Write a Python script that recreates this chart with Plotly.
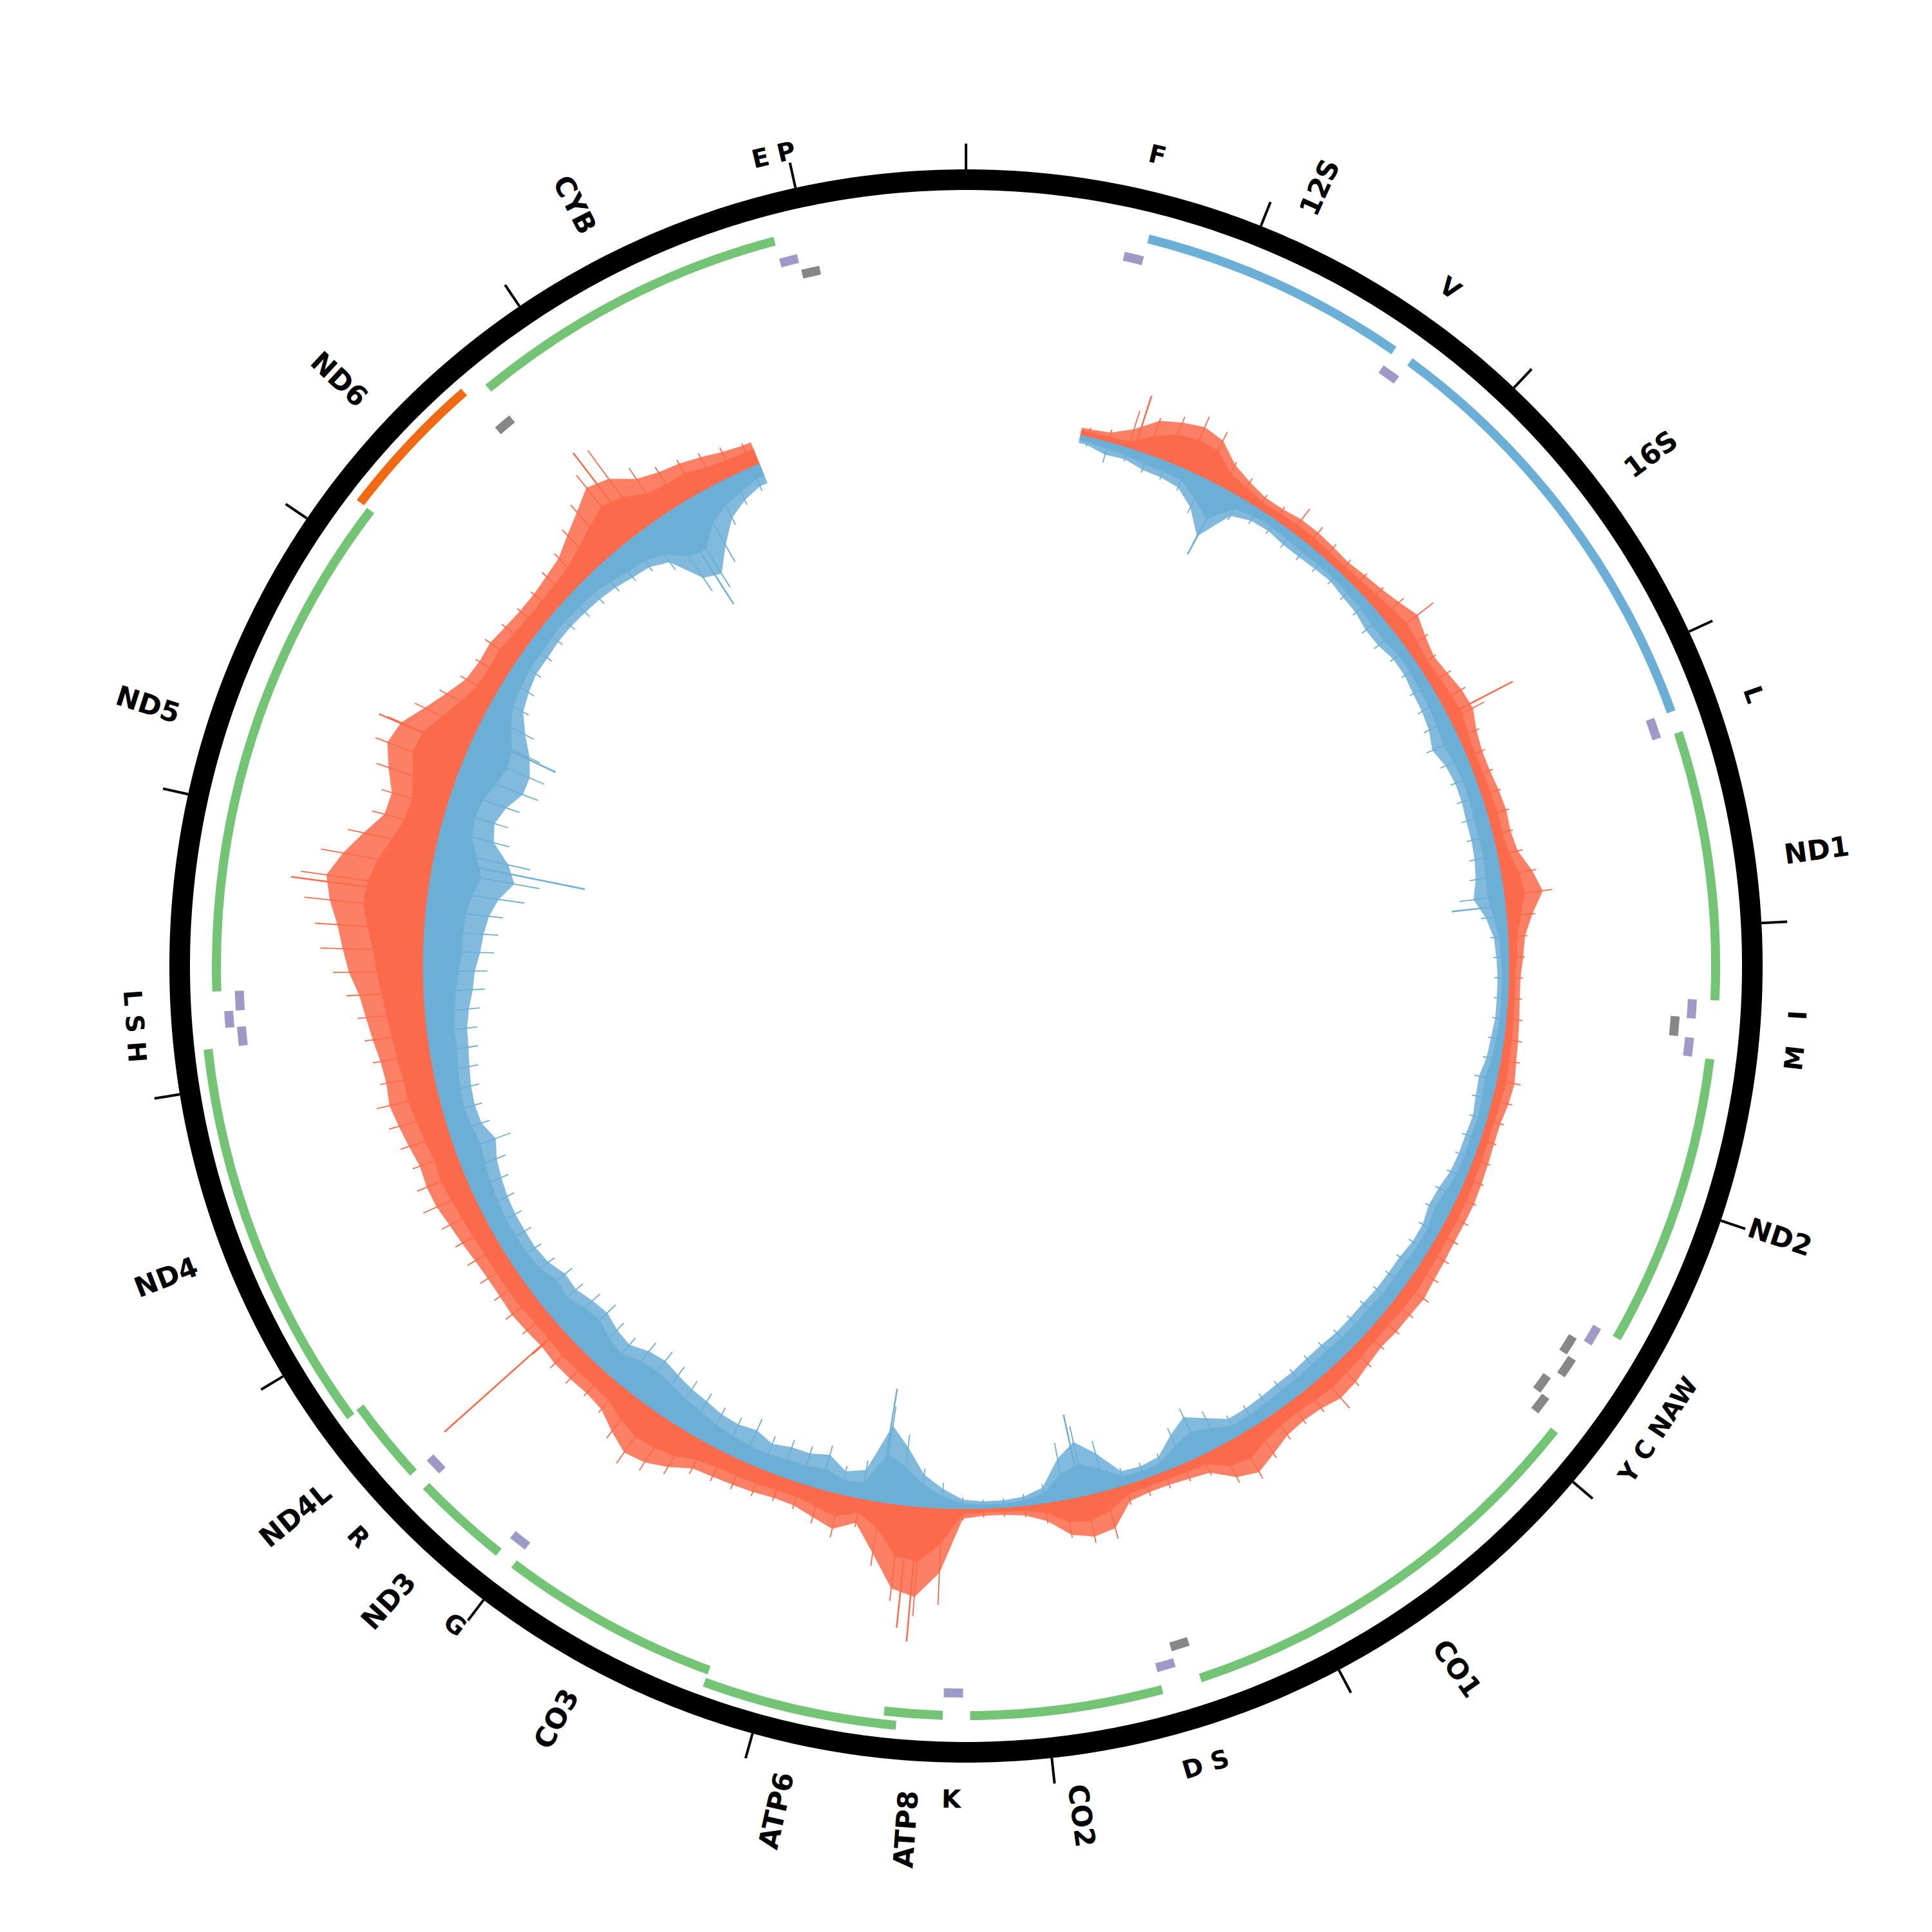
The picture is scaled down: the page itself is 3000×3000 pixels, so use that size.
import math
import plotly.graph_objects as go

GENOME_LEN = 16569

# ---------------- gene annotation (bp) ----------------
gene_names  = ["F","12S","V","16S","L","ND1","I","Q","M","ND2","W","A","N","C","Y","CO1","S","D","CO2","K",
               "ATP8","ATP6","CO3","G","ND3","R","ND4L","ND4","H","S","L","ND5","ND6","E","CYB","T","P"]
gene_start  = [577,648,1602,1671,3230,3307,4263,4329,4402,4470,5512,5587,5657,5761,5826,5904,7446,7518,7586,8295,
               8366,8527,9207,9991,10059,10405,10470,10760,12138,12207,12266,12337,14149,14674,14747,15888,15956]
gene_end    = [647,1601,1670,3229,3304,4262,4331,4400,4469,5511,5579,5655,5729,5826,5891,7445,7514,7585,8269,8364,
               8572,9207,9990,10058,10404,10469,10766,12137,12206,12265,12336,14148,14673,14742,15887,15953,16023]
gene_type   = ["tRNA","rRNA","tRNA","rRNA","tRNA","CDS","tRNA","tRNA","tRNA","CDS","tRNA","tRNA","tRNA","tRNA","tRNA","CDS","tRNA","tRNA","CDS","tRNA",
               "CDS","CDS","CDS","tRNA","CDS","tRNA","CDS","CDS","tRNA","tRNA","tRNA","CDS","CDS","tRNA","CDS","tRNA","tRNA"]
gene_strand = ["+","+","+","+","+","+","+","-","+","+","+","-","-","-","-","+","-","+","+","+",
               "+","+","+","+","+","+","+","+","+","+","+","+","-","-","+","+","-"]

# tRNA label groups (text, bp position)
trna_label_text = ["F","V","L","I","M","Y C NAW","D S","K","G","R","L S H","E P"]
trna_label_pos  = [612,1636,3267,4297,4435,5700,7516,8330,10025,10437,12236,15955]

tick_pos = [0,1000,2000,3000,4000,5000,6000,7000,8000,9000,10000,11000,12000,13000,14000,15000,16000]

# ---------------- coverage (100 bp bins) ----------------
cov_pos = list(range(600, 15600, 100))
# dense level
red_core = [8,8,10,30,45,50,48,25,18,12,
            12,14,14,12,12,14,16,20,24,20,
            16,18,20,22,16,14,14,15,16,15,
            18,28,32,22,14,12,10,10,11,12,
            13,15,14,12,12,13,14,15,16,16,
            17,18,20,19,18,18,20,22,24,22,
            20,22,28,40,35,16,14,13,13,15,
            32,40,35,15,8,6,6,8,55,85,
            80,40,22,35,28,22,22,24,25,26,
            30,42,48,50,42,30,28,28,28,26,
            26,28,28,28,28,30,32,35,38,36,
            40,44,48,48,52,55,60,65,72,78,
            88,98,95,85,70,58,55,65,78,75,
            58,42,32,30,32,28,26,26,28,32,
            42,55,68,60,42,38,38,30,26,25]
# outer extent of the spike fuzz
red_edge = [12,15,30,55,65,72,65,40,28,20,
            20,24,24,22,20,24,28,35,45,35,
            28,32,38,40,30,25,25,28,30,28,
            32,48,60,40,26,22,18,18,20,22,
            24,28,26,22,22,24,26,28,28,28,
            30,32,36,34,34,32,36,42,45,38,
            36,40,52,65,55,30,25,22,22,26,
            60,65,55,28,15,11,11,15,100,140,
            130,80,38,55,45,36,35,38,40,42,
            45,62,75,80,65,48,44,45,45,42,
            44,46,44,44,46,50,54,60,62,60,
            66,72,78,75,78,85,92,100,115,125,
            135,150,160,140,115,90,88,105,120,112,
            88,68,52,48,50,45,42,42,46,52,
            68,85,105,95,70,60,55,48,40,36]
# tallest spike in each bin
red_peak = [15,20,60,60,75,90,80,45,35,25,
            25,45,35,28,25,28,32,45,76,40,
            32,38,45,60,35,30,30,32,35,32,
            40,55,75,45,30,25,22,22,25,28,
            30,38,32,28,26,28,30,32,35,35,
            38,40,45,40,40,38,42,50,66,45,
            42,48,60,77,65,35,30,28,28,32,
            77,75,60,32,18,14,14,18,150,170,
            150,100,45,69,55,42,40,45,48,50,
            55,75,90,101,78,55,50,55,55,60,
            52,58,55,58,60,62,68,83,78,72,
            80,88,98,85,90,98,105,120,140,160,
            170,190,200,175,140,110,105,125,140,135,
            105,80,62,55,60,52,48,48,55,62,
            80,100,130,150,90,70,62,55,48,40]
blue_core = [8,10,12,15,16,18,35,55,20,14,
             12,14,15,14,13,15,16,20,20,16,
             16,18,20,22,26,22,20,20,22,22,
             22,24,26,20,14,12,10,10,10,12,
             14,18,16,14,15,15,16,20,24,18,
             18,20,20,20,22,22,22,24,24,22,
             22,20,18,18,30,40,30,15,12,14,
             35,50,40,15,8,6,6,8,18,35,
             60,75,25,22,32,28,28,25,26,28,
             32,38,42,48,52,48,38,42,52,48,
             38,42,32,28,28,28,30,32,36,40,
             36,33,35,38,42,42,46,50,55,60,
             60,62,68,78,65,50,46,50,60,68,
             62,45,32,28,24,24,22,22,24,25,
             30,36,40,50,75,80,50,36,28,20]
blue_edge = [12,20,18,25,26,30,50,85,32,22,
             20,24,24,22,20,24,26,32,32,26,
             26,30,32,36,45,36,32,32,34,34,
             36,40,48,32,22,19,17,17,17,20,
             22,28,26,22,24,24,26,32,34,28,
             28,32,32,32,34,34,34,36,36,34,
             34,32,30,30,48,65,48,24,20,22,
             60,85,65,24,14,11,11,14,30,50,
             90,120,45,36,55,48,48,42,52,48,
             50,56,60,66,72,68,56,60,68,64,
             56,58,48,44,44,44,46,50,55,65,
             52,50,52,56,60,62,68,76,80,88,
             92,98,110,130,115,85,78,88,105,105,
             92,70,50,42,36,36,34,34,36,38,
             42,48,52,65,115,125,90,58,42,32]
blue_peak = [15,33,22,30,30,35,60,100,40,28,
             26,30,30,28,26,30,32,40,40,32,
             32,36,40,45,55,45,40,40,42,42,
             45,50,70,40,28,24,22,22,22,25,
             28,36,32,28,30,30,32,38,40,35,
             35,38,38,38,40,40,40,42,42,40,
             40,38,36,36,60,80,60,30,26,28,
             80,110,90,30,18,14,14,18,40,60,
             110,150,60,45,70,60,60,55,72,60,
             62,70,75,82,90,85,70,75,86,80,
             70,72,60,55,55,55,58,62,70,90,
             65,62,65,70,75,78,85,95,100,110,
             115,120,150,170,150,110,100,110,130,130,
             110,85,60,52,45,45,42,42,45,48,
             50,55,60,80,140,150,120,70,50,40]
# isolated long spikes (bp, height)
red_spike_pos = [830,2877,8516,8560,10504,12773,13496,14846]
red_spike_val = [88,114,210,190,243,214,149,160]
blue_spike_pos = [1302,3848,7720,8710,12951,13590,15064]
blue_spike_val = [117,84,130,178,239,138,175]

# ---------------- styling / geometry ----------------
RED, BLUE = "#fb6a4a", "#6baed6"
RED_FUZZ, BLUE_FUZZ = "rgba(251,106,74,0.85)", "rgba(107,174,214,0.85)"
GREEN, ORANGE, PURPLE, GREY = "#74c476", "#f16913", "#9e9ac8", "#878787"
W = 3000               # figure size (px)
PAGE_OFF = 8           # page body margin compensation (px)
RMAX = W / 2 - PAGE_OFF
BASE_R = 843
RING_R, RING_W = 1221, 32
TICK_R0, TICK_R1 = 1237, 1277
TRACK_R = {"gene": 1164, "trna+": 1129, "trna-": 1104}
STAGGER = {"gene": 20, "trna+": 18, "trna-": 17}
FEAT_W = 14
FONT = "DejaVu Sans"
CHAR_W_BOLD = {"A": .774, "B": .762, "C": .734, "D": .830, "L": .637, "N": .837, "O": .850, "P": .733,
               "S": .720, "T": .682, "Y": .724, "1": .696, "2": .696, "3": .696, "4": .696, "5": .696,
               "6": .696, "8": .696, " ": .348}


def deg(p):
    return p / GENOME_LEN * 360.0


def to_paper(r, t):
    a = math.radians(t)
    return (RMAX + r * math.sin(a)) / W, 1 - (RMAX - r * math.cos(a)) / W


fig = go.Figure()


def band(values, sign):
    th = [deg(cov_pos[0] - 40)]
    rr = [BASE_R]
    th.append(deg(cov_pos[0] - 40)); rr.append(BASE_R + sign * values[0])
    for p, v in zip(cov_pos, values):
        th.append(deg(p)); rr.append(BASE_R + sign * v)
    th.append(deg(cov_pos[-1] + 40)); rr.append(BASE_R + sign * values[-1])
    th.append(deg(cov_pos[-1] + 40)); rr.append(BASE_R)
    for p in reversed(cov_pos):
        th.append(deg(p)); rr.append(BASE_R)
    th.append(th[0]); rr.append(rr[0])
    return th, rr


def hairs(pos, vals, sign):
    th, rr = [], []
    for p, v in zip(pos, vals):
        th += [deg(p), deg(p), None]
        rr += [BASE_R, BASE_R + sign * v, None]
    return th, rr


for sign, core, edge, peak, sp, sv, col, fuzz in [
        (1, red_core, red_edge, red_peak, red_spike_pos, red_spike_val, RED, RED_FUZZ),
        (-1, blue_core, blue_edge, blue_peak, blue_spike_pos, blue_spike_val, BLUE, BLUE_FUZZ)]:
    th, rr = band(edge, sign)
    fig.add_trace(go.Scatterpolar(theta=th, r=rr, mode="lines", fill="toself", fillcolor=fuzz,
                                  line=dict(color=fuzz, width=0.5), hoverinfo="skip"))
    th, rr = band(core, sign)
    fig.add_trace(go.Scatterpolar(theta=th, r=rr, mode="lines", fill="toself", fillcolor=col,
                                  line=dict(color=col, width=0.5), hoverinfo="skip"))
    th, rr = hairs(cov_pos, peak, sign)
    fig.add_trace(go.Scatterpolar(theta=th, r=rr, mode="lines", line=dict(color=col, width=1.8),
                                  hoverinfo="skip"))
    th, rr = hairs(sp, sv, sign)
    fig.add_trace(go.Scatterpolar(theta=th, r=rr, mode="lines", line=dict(color=col, width=2.5),
                                  hoverinfo="skip"))

# genome ring
ring_theta = [i * 0.5 for i in range(721)]
fig.add_trace(go.Scatterpolar(theta=ring_theta, r=[RING_R] * len(ring_theta), mode="lines",
                              line=dict(color="black", width=RING_W), hoverinfo="skip"))

# ticks
tt, tr = [], []
for p in tick_pos:
    tt += [deg(p), deg(p), None]
    tr += [TICK_R0, TICK_R1, None]
fig.add_trace(go.Scatterpolar(theta=tt, r=tr, mode="lines", line=dict(color="black", width=4),
                              hoverinfo="skip"))


# features
def track_of(i):
    if gene_type[i] == "tRNA":
        return "trna+" if gene_strand[i] == "+" else "trna-"
    return "gene"


def color_of(i):
    if gene_type[i] == "rRNA":
        return BLUE
    if gene_type[i] == "CDS":
        return GREEN if gene_strand[i] == "+" else ORANGE
    return PURPLE if gene_strand[i] == "+" else GREY


levels = [0] * len(gene_names)
last = {}
for i in sorted(range(len(gene_names)), key=lambda k: gene_start[k]):
    tk = track_of(i)
    if tk in last and gene_start[i] - gene_end[last[tk]] <= 2:
        levels[i] = 1 - levels[last[tk]]
    last[tk] = i

groups = {}
for i in range(len(gene_names)):
    tk = track_of(i)
    c = color_of(i)
    g = groups.setdefault(c, {"theta": [], "width": [], "base": [], "r": []})
    g["theta"].append(deg((gene_start[i] + gene_end[i] + 1) / 2))
    g["width"].append(deg(gene_end[i] - gene_start[i] + 1))
    g["base"].append(TRACK_R[tk] - FEAT_W / 2 + levels[i] * STAGGER[tk])
    g["r"].append(FEAT_W)
for c, g in groups.items():
    fig.add_trace(go.Barpolar(theta=g["theta"], width=g["width"], base=g["base"], r=g["r"],
                              marker=dict(color=c, line=dict(width=0)), hoverinfo="skip"))

# labels
ann = []
FS_GENE, FS_TRNA = 43, 39
for i, name in enumerate(gene_names):
    if gene_type[i] == "tRNA":
        continue
    t = deg((gene_start[i] + gene_end[i]) / 2)
    w = FS_GENE * sum(CHAR_W_BOLD.get(ch, .7) for ch in name)
    rc = 1282 + w / 2
    ang = t - 90 if t <= 180 else t - 270
    x, y = to_paper(rc, t)
    ann.append(dict(x=x, y=y, xref="paper", yref="paper", text=name, showarrow=False, textangle=ang,
                    xanchor="center", yanchor="middle",
                    font=dict(family=FONT, size=FS_GENE, color="black", weight="bold")))
for txt, p in zip(trna_label_text, trna_label_pos):
    t = deg(p)
    if 90 < t < 270:
        ang = t - 180
    else:
        ang = t if t <= 90 else t - 360
    x, y = to_paper(1294, t)
    ann.append(dict(x=x, y=y, xref="paper", yref="paper", text=txt, showarrow=False, textangle=ang,
                    xanchor="center", yanchor="middle",
                    font=dict(family=FONT, size=FS_TRNA, color="black", weight="bold")))

fig.update_layout(
    width=W, height=W, margin=dict(l=0, r=0, t=0, b=0),
    paper_bgcolor="white", plot_bgcolor="white", showlegend=False,
    polar=dict(domain=dict(x=[0, 2 * RMAX / W], y=[1 - 2 * RMAX / W, 1]), bgcolor="white",
               radialaxis=dict(visible=False, range=[0, RMAX]),
               angularaxis=dict(visible=False, rotation=90, direction="clockwise")),
    annotations=ann,
)

fig.write_html("out.html")
